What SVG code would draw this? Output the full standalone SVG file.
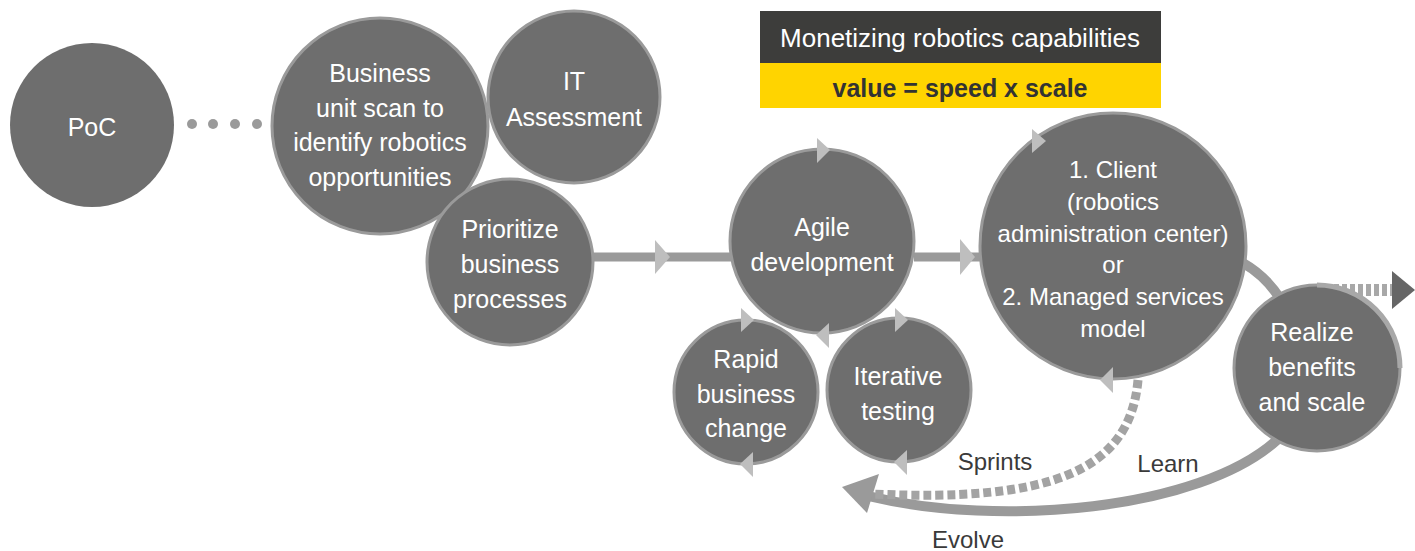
<svg xmlns="http://www.w3.org/2000/svg" width="1415" height="551" viewBox="0 0 1415 551">
<style>
.node{fill:#6e6e6e;stroke:#9a9a9a;stroke-width:3}
.t{font-family:"Liberation Sans",Arial,sans-serif;font-size:25px;fill:#ffffff;text-anchor:middle}
.c{font-size:24px}
.lbl{font-family:"Liberation Sans",Arial,sans-serif;font-size:24px;fill:#3a3a3a;text-anchor:middle}
.tri{fill:#bebebe}
.bar{stroke:#9a9a9a;stroke-width:9;fill:none}
</style>
<rect width="1415" height="551" fill="#ffffff"/>

<g id="header">
<rect x="760" y="11" width="401" height="52" fill="#3d3d3b"/>
<rect x="760" y="63" width="401" height="45" fill="#ffd400"/>
<text x="960" y="47" style="font-family:'Liberation Sans',Arial,sans-serif;font-size:26px;fill:#ffffff;text-anchor:middle">Monetizing robotics capabilities</text>
<text x="960" y="97" style="font-family:'Liberation Sans',Arial,sans-serif;font-size:25px;font-weight:bold;fill:#333333;text-anchor:middle">value = speed x scale</text>
</g>

<g id="connectors">
<g fill="#9a9a9a">
<circle cx="192" cy="124" r="5"/><circle cx="213" cy="124" r="5"/><circle cx="235" cy="124" r="5"/><circle cx="257" cy="124" r="5"/>
</g>
<line class="bar" x1="592" y1="257" x2="731" y2="257"/>
<line class="bar" x1="914" y1="257" x2="982" y2="257"/>
<path d="M1243,263 Q1266,276 1281,300" stroke="#9a9a9a" stroke-width="10" fill="none"/>
<path d="M1277,440 C1200,510 1000,528 868,496" stroke="#9a9a9a" stroke-width="10" fill="none"/>
<polygon points="842,487 879,474 867,513" fill="#9a9a9a"/>
<path d="M1138,380 C1130,472 1050,502 872,494" stroke="#a3a3a3" stroke-width="9" fill="none" stroke-dasharray="8 4"/>
<line x1="1318" y1="290" x2="1392" y2="290" stroke="#a8a8a8" stroke-width="12" stroke-dasharray="5 3"/>
<polygon points="1392,271 1415,290 1392,309" fill="#666666"/>
</g>

<g id="poc"><circle cx="92" cy="125" r="82" fill="#6e6e6e"/><text class="t" x="92" y="136">PoC</text></g>

<g id="it"><circle class="node" cx="574" cy="97" r="86"/>
<text class="t" x="574" y="90">IT</text><text class="t" x="574" y="126">Assessment</text></g>

<g id="business"><circle class="node" cx="380" cy="126" r="108"/>
<text class="t" x="380" y="82">Business</text><text class="t" x="380" y="117">unit scan to</text><text class="t" x="380" y="151">identify robotics</text><text class="t" x="380" y="186">opportunities</text></g>

<g id="prioritize"><circle class="node" cx="510" cy="262" r="83"/>
<text class="t" x="510" y="238">Prioritize</text><text class="t" x="510" y="273">business</text><text class="t" x="510" y="308">processes</text></g>

<g id="agile"><circle class="node" cx="822" cy="241" r="92"/>
<text class="t" x="822" y="236">Agile</text><text class="t" x="822" y="271">development</text></g>

<g id="rapid"><circle class="node" cx="746" cy="392" r="72"/>
<text class="t" x="746" y="368">Rapid</text><text class="t" x="746" y="403">business</text><text class="t" x="746" y="437">change</text></g>

<g id="iterative"><circle class="node" cx="899" cy="390" r="72"/>
<text class="t" x="898" y="385">Iterative</text><text class="t" x="898" y="420">testing</text></g>

<g id="client"><circle class="node" cx="1113" cy="246" r="133"/>
<text class="t c" x="1113" y="178">1. Client</text><text class="t c" x="1113" y="210">(robotics</text><text class="t c" x="1113" y="242">administration center)</text><text class="t c" x="1113" y="273">or</text><text class="t c" x="1113" y="305">2. Managed services</text><text class="t c" x="1113" y="337">model</text></g>

<g id="realize"><circle class="node" cx="1317" cy="368" r="83"/>
<path d="M1317,285 A83,83 0 0,1 1400,368" stroke="#a8a8a8" stroke-width="5" fill="none"/>
<text class="t" x="1312" y="341">Realize</text><text class="t" x="1312" y="376">benefits</text><text class="t" x="1312" y="411">and scale</text></g>

<g id="markers">
<polygon class="tri" points="655,240 670,257 655,274"/>
<polygon class="tri" points="960,239 975,257 960,275"/>
<polygon class="tri" points="817,138 830,150 817,163"/>
<polygon class="tri" points="829,323 816,335 829,348"/>
<polygon class="tri" points="741,308 754,320 741,332"/>
<polygon class="tri" points="753,452 740,464 753,477"/>
<polygon class="tri" points="895,308 908,320 895,332"/>
<polygon class="tri" points="907,450 894,462 907,475"/>
<polygon class="tri" points="1032,129 1046,141 1032,153"/>
<polygon class="tri" points="1113,367 1100,380 1113,393"/>
</g>

<g id="labels">
<text class="lbl" x="995" y="470">Sprints</text>
<text class="lbl" x="1168" y="472">Learn</text>
<text class="lbl" x="968" y="548">Evolve</text>
</g>
</svg>
